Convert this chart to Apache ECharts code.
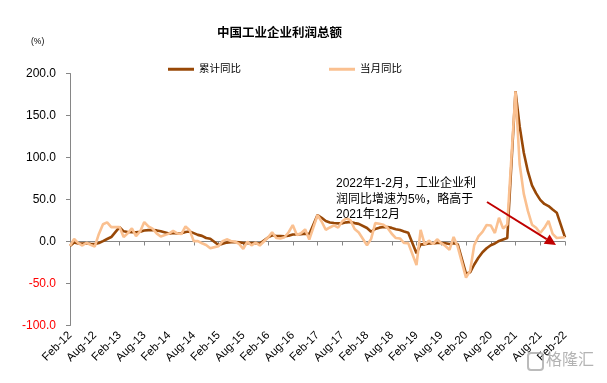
<!DOCTYPE html>
<html><head><meta charset="utf-8">
<script src="https://cdn.jsdelivr.net/npm/echarts@6/dist/echarts.min.js"></script>
<style>html,body{margin:0;padding:0;background:#fff}#c{width:607px;height:383px}</style>
</head><body><div id="c"></div>
<script>
const categories = [
'Feb-12','Mar-12','Apr-12','May-12','Jun-12','Jul-12','Aug-12','Sep-12','Oct-12','Nov-12','Dec-12',
'Jan-13','Feb-13','Mar-13','Apr-13','May-13','Jun-13','Jul-13','Aug-13','Sep-13','Oct-13','Nov-13','Dec-13',
'Jan-14','Feb-14','Mar-14','Apr-14','May-14','Jun-14','Jul-14','Aug-14','Sep-14','Oct-14','Nov-14','Dec-14',
'Jan-15','Feb-15','Mar-15','Apr-15','May-15','Jun-15','Jul-15','Aug-15','Sep-15','Oct-15','Nov-15','Dec-15',
'Jan-16','Feb-16','Mar-16','Apr-16','May-16','Jun-16','Jul-16','Aug-16','Sep-16','Oct-16','Nov-16','Dec-16',
'Jan-17','Feb-17','Mar-17','Apr-17','May-17','Jun-17','Jul-17','Aug-17','Sep-17','Oct-17','Nov-17','Dec-17',
'Jan-18','Feb-18','Mar-18','Apr-18','May-18','Jun-18','Jul-18','Aug-18','Sep-18','Oct-18','Nov-18','Dec-18',
'Jan-19','Feb-19','Mar-19','Apr-19','May-19','Jun-19','Jul-19','Aug-19','Sep-19','Oct-19','Nov-19','Dec-19',
'Jan-20','Feb-20','Mar-20','Apr-20','May-20','Jun-20','Jul-20','Aug-20','Sep-20','Oct-20','Nov-20','Dec-20',
'Jan-21','Feb-21','Mar-21','Apr-21','May-21','Jun-21','Jul-21','Aug-21','Sep-21','Oct-21','Nov-21','Dec-21',
'Jan-22','Feb-22'];

// 累计同比 (%)
const cumulative = [
-5.2,-1.3,-2.2,-2.4,-2.2,-2.7,-3.1,-1.8,0.5,3.0,5.3,
null,17.2,12.1,11.4,11.1,11.1,11.6,13.1,13.5,13.7,13.2,12.2,
null,9.4,10.1,9.6,9.8,11.4,11.9,10.0,7.9,6.7,4.2,3.3,
null,-4.2,-2.7,-1.3,-0.8,-0.7,-1.0,-1.9,-1.7,-1.9,-1.9,-2.3,
null,4.8,7.4,6.5,6.4,6.2,6.9,8.4,8.4,8.6,9.4,8.5,
null,31.5,28.3,24.4,22.7,22.0,21.6,21.6,22.8,23.3,21.9,21.0,
null,16.1,11.6,15.0,16.5,17.2,17.1,16.2,14.7,13.6,11.8,10.3,
null,-14.0,-3.3,-3.4,-2.3,-2.4,-1.7,-1.7,-2.1,-2.9,-2.1,-3.3,
null,-38.3,-36.7,-27.4,-19.3,-12.8,-8.1,-4.4,-2.4,0.7,2.4,4.1,
null,178.9,137.3,106.0,83.4,66.9,57.3,49.5,44.7,42.2,38.0,34.3,
null,5.0];

// 当月同比 (%)
const monthly = [
-5.2,3.0,-2.0,-4.8,-1.5,-4.0,-6.0,9.0,20.5,22.8,17.1,
null,17.2,5.3,9.9,15.5,6.3,12.0,23.2,17.9,15.4,9.7,6.0,
null,9.4,12.7,9.6,8.9,17.9,13.5,0.4,0.4,-2.1,-4.2,-8.0,
null,-5.5,0.4,2.6,0.6,-0.3,-2.9,-8.8,-0.1,-4.6,-1.4,-4.7,
null,4.8,11.1,4.2,3.7,5.1,11.0,19.5,7.7,9.8,14.5,2.3,
null,31.5,23.8,14.0,16.7,19.1,16.5,24.0,27.7,25.1,14.9,10.8,
null,-4.5,3.1,21.9,21.1,20.0,16.2,9.2,4.1,3.6,-1.8,-1.9,
null,-28.0,13.9,-3.7,1.1,-3.1,2.6,-2.0,-5.3,-9.9,5.4,-6.3,
null,-43.0,-34.9,-4.3,6.0,11.5,19.6,19.1,10.1,28.2,15.5,20.1,
null,178.9,92.3,57.0,36.4,20.0,16.4,10.1,16.3,24.6,9.0,4.2,
null,5.0];

const seriesNames = ['累计同比','当月同比'];
const yTicks = {min:-100, max:200, interval:50};
const titleText = '中国工业企业利润总额';
const unitText = '(%)';
const noteLines = ['2022年1-2月，工业企业利','润同比增速为5%，略高于','2021年12月'];

const FONT = "'Liberation Sans', Arial, 'Noto Sans CJK SC', sans-serif";
const chart = echarts.init(document.getElementById('c'), null, {renderer:'canvas'});

// annotation arrow (pixel annotation, not a data mark)
const a0 = [487, 202], a1 = [556, 245];
const dx = a1[0]-a0[0], dy = a1[1]-a0[1], L = Math.hypot(dx,dy);
const ux = dx/L, uy = dy/L, hl = 11, hw = 5.5;
const bx = a1[0]-ux*hl, by = a1[1]-uy*hl;

chart.setOption({
  animation:false,
  textStyle:{fontFamily:FONT},
  title:{text:titleText, left:212, top:22, textStyle:{fontSize:12.5, fontWeight:'bold', color:'#000', fontFamily:FONT}},
  legend:{
    data:seriesNames, left:168, top:64, icon:'rect', itemWidth:26, itemHeight:3, itemGap:88, padding:0,
    textStyle:{fontSize:10.5, color:'#000', fontFamily:FONT}
  },
  grid:{left:70, right:42, top:73.5, height:252},
  xAxis:[
    {type:'category', data:categories, boundaryGap:false,
     axisLine:{show:true, onZero:true, lineStyle:{color:'#868686', width:1}},
     axisTick:{show:true, interval:5, length:4, lineStyle:{color:'#868686'}},
     axisLabel:{show:false}, splitLine:{show:false}},
    {type:'category', data:categories, boundaryGap:false, position:'bottom',
     axisLine:{show:false, onZero:false}, axisTick:{show:false},
     axisLabel:{show:true, interval:5, rotate:45, margin:8, fontSize:11.5, color:'#000', fontFamily:FONT},
     splitLine:{show:false}}
  ],
  yAxis:{type:'value', min:yTicks.min, max:yTicks.max, interval:yTicks.interval,
    axisLine:{show:true, lineStyle:{color:'#868686'}},
    axisTick:{show:true, length:4, lineStyle:{color:'#868686'}},
    splitLine:{show:false},
    axisLabel:{margin:14, fontSize:12, fontFamily:FONT,
      formatter:v=>v.toFixed(1),
      color:v=>(Number(v)<0?'#FF0000':'#000000')}
  },
  series:[
    {name:seriesNames[0], type:'line', data:cumulative, xAxisIndex:0, showSymbol:false, symbol:'none', connectNulls:true,
     lineStyle:{color:'#984807', width:2.6}, itemStyle:{color:'#984807'}, z:2},
    {name:seriesNames[1], type:'line', data:monthly, xAxisIndex:0, showSymbol:false, symbol:'none', connectNulls:true,
     lineStyle:{color:'#FAC090', width:2.6}, itemStyle:{color:'#FAC090'}, z:3}
  ],
  graphic:[
    {type:'text', left:31, top:37, style:{text:unitText, fontSize:8.5, fill:'#000', font:'8.5px '+FONT}},
    {type:'text', left:336, top:176, z:10, style:{text:noteLines.join('\n'), fill:'#000', font:'12px '+FONT, lineHeight:15.5}},
    {type:'line', z:10, shape:{x1:a0[0], y1:a0[1], x2:bx, y2:by}, style:{stroke:'#C00000', lineWidth:2}},
    {type:'polygon', z:10, shape:{points:[[a1[0],a1[1]],[bx-uy*hw, by+ux*hw],[bx+uy*hw, by-ux*hw]]}, style:{fill:'#C00000'}},
    {type:'rect', z:20, shape:{x:528, y:353, width:15, height:17, r:3}, style:{fill:'none', stroke:'rgba(170,170,170,0.8)', lineWidth:2}},
    {type:'text', z:20, left:546, top:353, style:{text:'格隆汇', fill:'rgba(160,160,160,0.8)', font:'16px '+FONT}}
  ]
});
</script></body></html>
